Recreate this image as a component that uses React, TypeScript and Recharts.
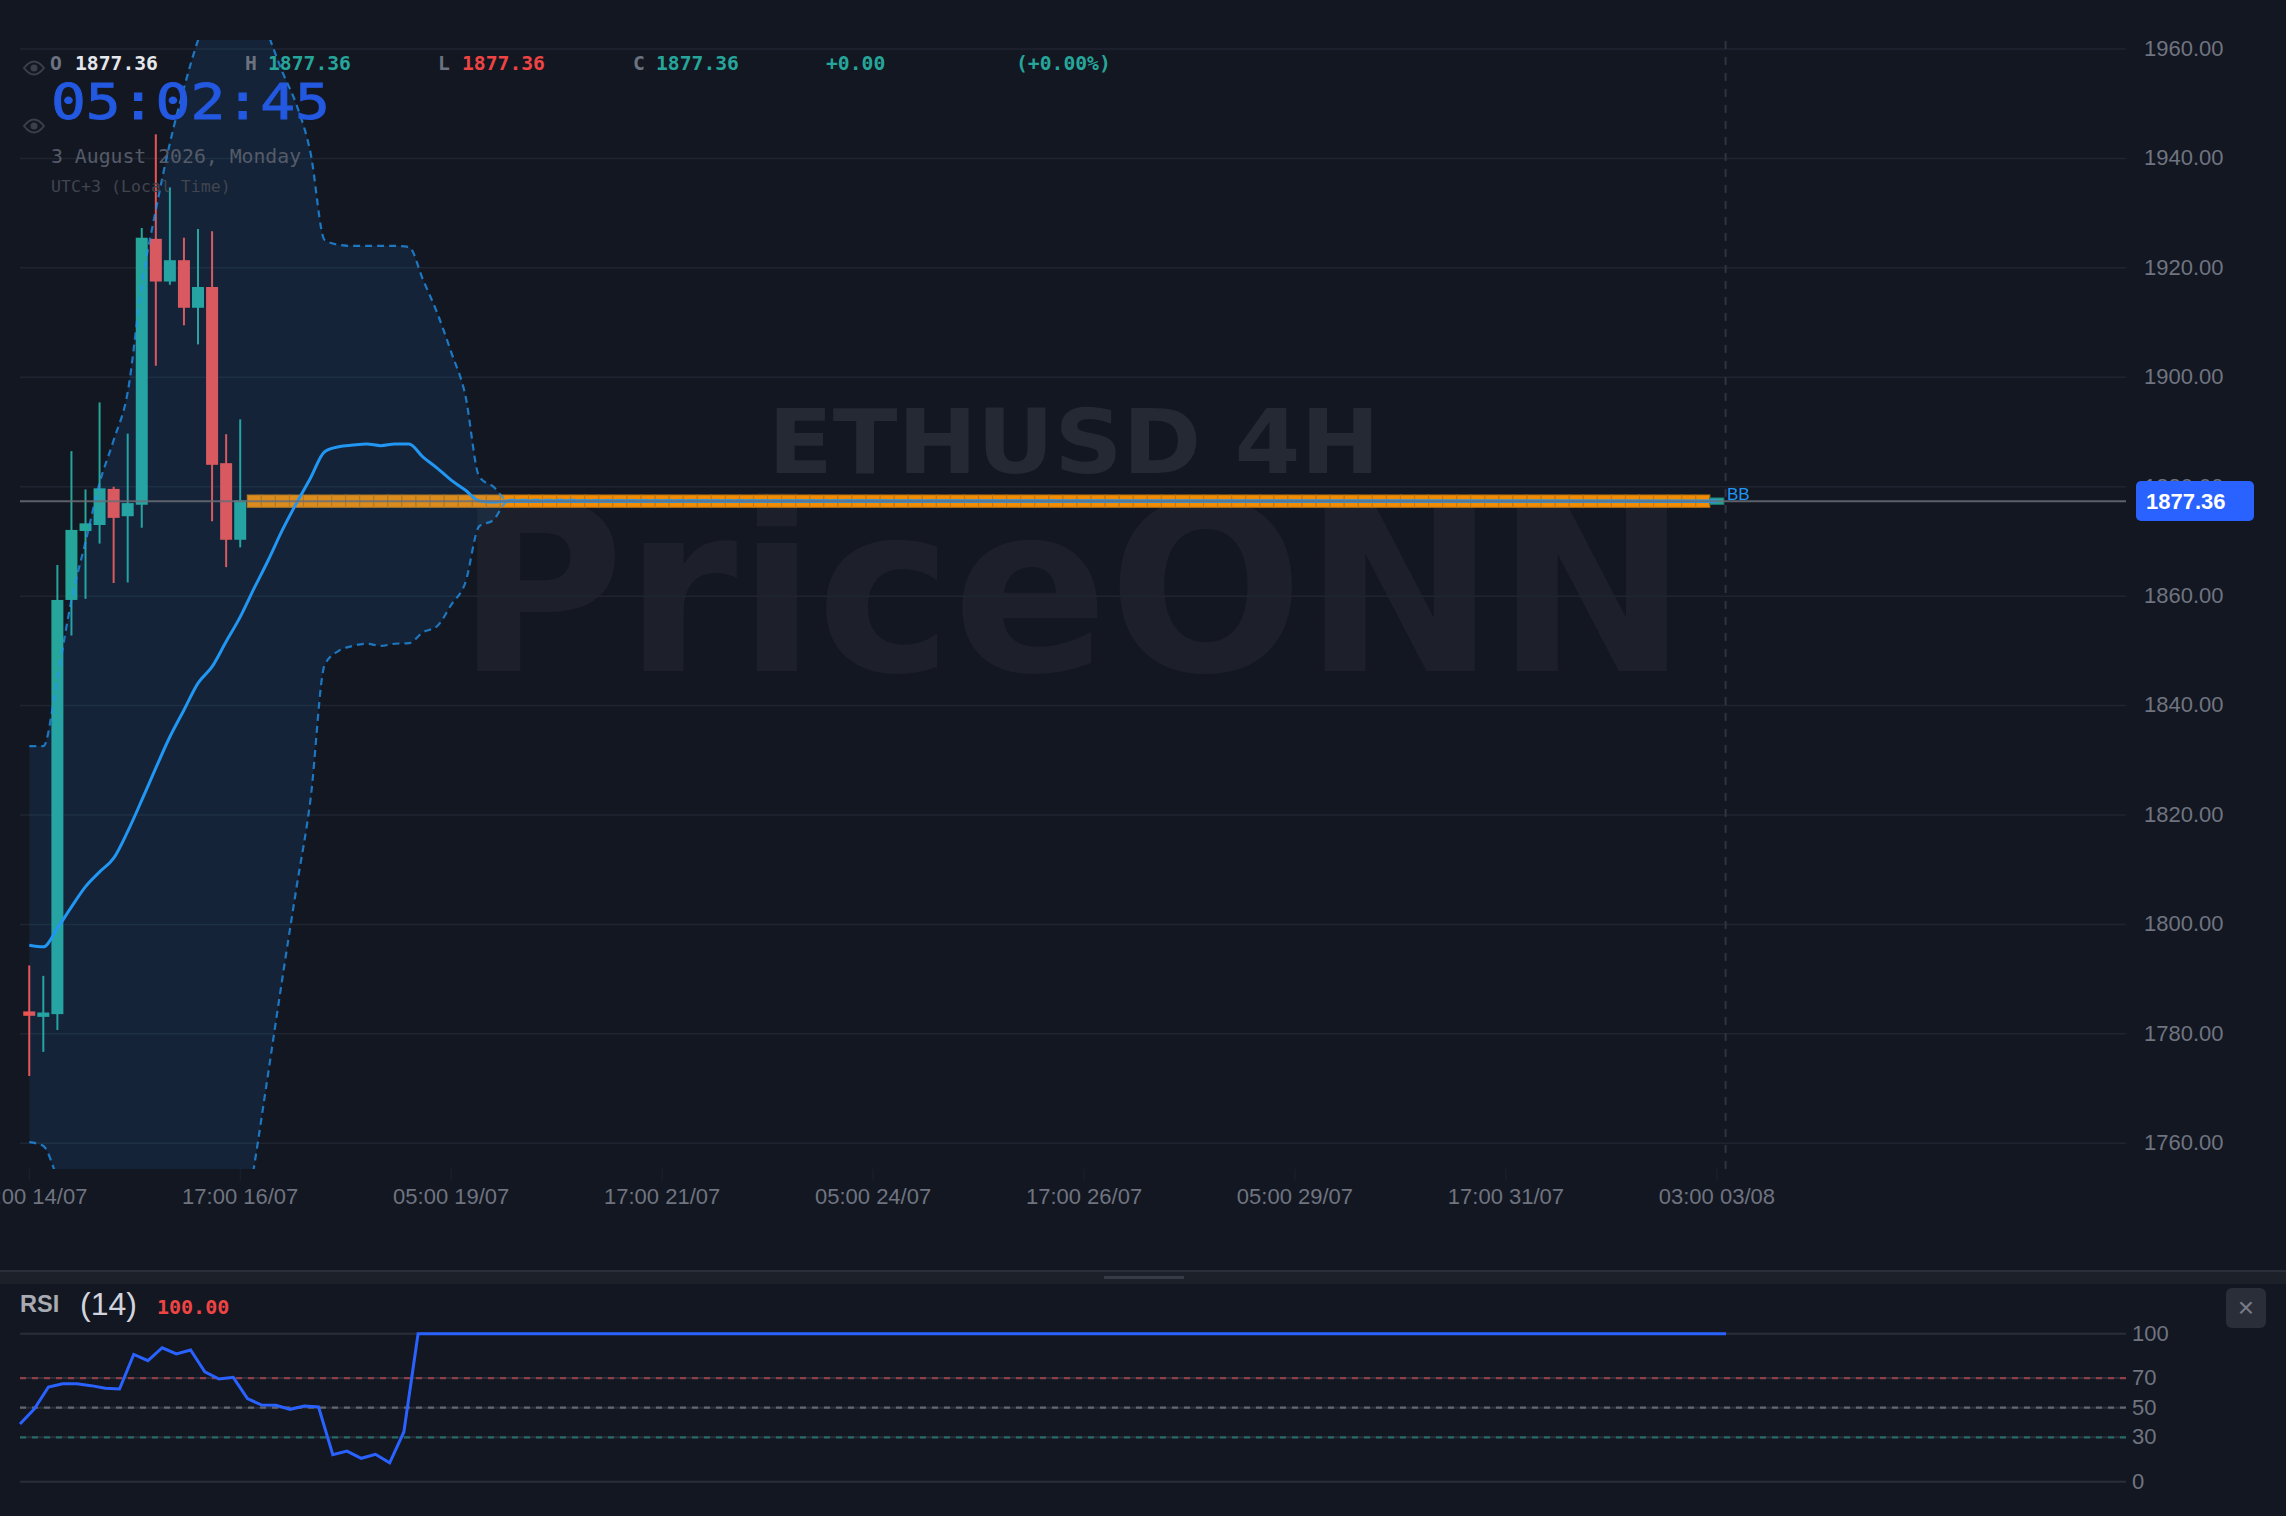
import { ComposedChart, LineChart, Area, Bar, Line, XAxis, YAxis, CartesianGrid, ReferenceLine } from 'recharts'

const BG = '#131722'
const TEAL = '#26a69a'
const RED = '#ef5350'
const BAND_BLUE = '#2196f3'
const AXIS_TEXT = '#6f7480'
const MONO = '"DejaVu Sans Mono", monospace'
const SANS = '"Liberation Sans", Arial, sans-serif'

// Candles, 4H bars, first sixteen are the only ones that moved
const OPEN = [1784.1, 1783.1, 1783.6, 1859.3, 1871.9, 1873, 1879.6, 1874.6, 1876.7, 1925.3, 1917.5, 1921.4, 1912.7, 1916.5, 1884.3, 1870.3]
const HIGH = [1792.5, 1790.6, 1865.7, 1886.5, 1879.5, 1895.4, 1880, 1889.7, 1927.3, 1944.4, 1934.7, 1925.5, 1927.1, 1926.7, 1889.6, 1892.3]
const LOW = [1772.3, 1776.7, 1780.7, 1852.8, 1859.5, 1869.6, 1862.4, 1862.5, 1872.5, 1902.1, 1916.9, 1909.5, 1906, 1873.7, 1865.3, 1868.9]
const CLOSE = [1783.3, 1783.9, 1859.3, 1872.1, 1873.3, 1879.7, 1874.3, 1877, 1925.5, 1917.5, 1921.4, 1912.7, 1916.5, 1884, 1870.3, 1877.5]

// Flat tail after the feed stopped, one close per bar
const FLAT_CLOSE = [
  1877.36, 1877.36, 1877.36, 1877.36, 1877.36, 1877.36, 1877.36, 1877.36, 1877.36, 1877.36, 1877.36, 1877.36, 1877.36,
  1877.36, 1877.36, 1877.36, 1877.36, 1877.36, 1877.36, 1877.36, 1877.36, 1877.36, 1877.36, 1877.36, 1877.36, 1877.36,
  1877.36, 1877.36, 1877.36, 1877.36, 1877.36, 1877.36, 1877.36, 1877.36, 1877.36, 1877.36, 1877.36, 1877.36, 1877.36,
  1877.36, 1877.36, 1877.36, 1877.36, 1877.36, 1877.36, 1877.36, 1877.36, 1877.36, 1877.36, 1877.36, 1877.36, 1877.36,
  1877.36, 1877.36, 1877.36, 1877.36, 1877.36, 1877.36, 1877.36, 1877.36, 1877.36, 1877.36, 1877.36, 1877.36, 1877.36,
  1877.36, 1877.36, 1877.36, 1877.36, 1877.36, 1877.36, 1877.36, 1877.36, 1877.36, 1877.36, 1877.36, 1877.36, 1877.36,
  1877.36, 1877.36, 1877.36, 1877.36, 1877.36, 1877.36, 1877.36, 1877.36, 1877.36, 1877.36, 1877.36, 1877.36, 1877.36,
  1877.36, 1877.36, 1877.36, 1877.36, 1877.36, 1877.36, 1877.36, 1877.36, 1877.36, 1877.36, 1877.36, 1877.36, 1877.36,
  1877.36,
]
const FLAT_HALF = 1.12
const LAST_HALF = 0.58

// Bollinger bands, then flat at the last close up to the last bar
const BB_UPPER = [1832.6, 1832.6, 1845, 1859.3, 1869.9, 1880.7, 1888.5, 1897.3, 1916.9, 1930.6, 1942.8, 1952.9, 1961.6, 1968, 1970.8, 1971.7, 1969.9, 1962.6, 1955.8, 1949.8, 1941, 1925.1, 1924.2, 1924, 1924, 1924, 1924, 1923.8, 1917.8, 1911.8, 1904.6, 1896.8, 1881.8, 1880, 1877.6]
const BB_MID = [1796.2, 1795.9, 1799.3, 1803.2, 1806.9, 1809.6, 1812.1, 1817, 1822.7, 1828.6, 1834.3, 1839.2, 1844.1, 1847.1, 1851.7, 1856.2, 1861.5, 1866.6, 1872.1, 1877, 1881.6, 1886.4, 1887.3, 1887.6, 1887.8, 1887.5, 1887.8, 1887.8, 1885.4, 1883.4, 1881.2, 1879.4, 1877.4, 1877.2, 1877.4]
const BB_LOWER = [1760.2, 1759.5, 1753.6, 1747.1, 1743.9, 1738.5, 1735.7, 1736.7, 1728.5, 1726.6, 1725.8, 1725.5, 1726.6, 1726, 1732.6, 1740.7, 1756, 1773, 1790.2, 1806.7, 1822.9, 1847.4, 1850, 1850.9, 1851.3, 1850.9, 1851.3, 1851.4, 1853.4, 1854.5, 1858.4, 1862.4, 1872.8, 1873.9, 1877.2]
const BB_LAST = 1877.36

const PRICE_TICKS = [1760, 1780, 1800, 1820, 1840, 1860, 1880, 1900, 1920, 1940, 1960]
const TIME_TICKS = [0, 15, 30, 45, 60, 75, 90, 105, 120]
const TIME_LABELS = ['05:00 14/07', '17:00 16/07', '05:00 19/07', '17:00 21/07', '05:00 24/07', '17:00 26/07', '05:00 29/07', '17:00 31/07', '03:00 03/08']

const RSI_VALUES = [39, 49.1, 64, 66.2, 66.2, 64.9, 63.1, 62.6, 86, 81.8, 90.5, 86.3, 89, 74.3, 69.4, 70.5, 56.1, 51.8, 51.6, 48.9, 51.1, 50.5, 18.2, 20.7, 15.8, 18.5, 12.8, 33.6, 100]
const RSI_LAST = 100
const RSI_LAST_INDEX = 120
const RSI_TICKS = [0, 30, 50, 70, 100]

const candleRows = [
  ...OPEN.map((o, i) => ({ i, range: [LOW[i], HIGH[i]], open: o, close: CLOSE[i], kind: 'candle' })),
  ...FLAT_CLOSE.map((c, k) => {
    const i = OPEN.length + k
    const last = k === FLAT_CLOSE.length - 1
    const half = last ? LAST_HALF : FLAT_HALF
    return { i, range: [c - half, c + half], open: c, close: c, kind: last ? 'last' : 'flat' }
  }),
]
const chartData = candleRows.map((r, i) => {
  const tail = i === candleRows.length - 1
  const up = tail ? BB_LAST : BB_UPPER[i]
  const lo = tail ? BB_LAST : BB_LOWER[i]
  return {
    ...r,
    upper: up,
    mid: tail ? BB_LAST : BB_MID[i],
    lower: lo,
    band: up === undefined ? undefined : [lo, up],
    // where all three bands sit on top of each other the stroke reads wider
    merged: tail || i === BB_MID.length - 1 ? BB_LAST : undefined,
  }
})

const rsiData = [
  ...RSI_VALUES.map((v, j) => ({ j, v })),
  { j: RSI_LAST_INDEX, v: RSI_LAST },
]

function CandleShape(props: any) {
  const { x, y, width, height, payload } = props
  const cx = x + width / 2
  if (payload.kind === 'flat') {
    return <rect x={x} y={y} width={width} height={height} fill="#f28c04" stroke="#c27810" strokeWidth={1} />
  }
  if (payload.kind === 'last') {
    return <rect x={x} y={y} width={width} height={height} fill={TEAL} stroke="#1d7f78" strokeWidth={1} />
  }
  const [low, high] = payload.range
  const perUnit = height / (high - low)
  const isUp = payload.close >= payload.open
  const color = isUp ? TEAL : RED
  const top = y + (high - Math.max(payload.open, payload.close)) * perUnit
  const bodyH = Math.max(Math.abs(payload.open - payload.close) * perUnit, 3)
  return (
    <g>
      <line x1={cx} x2={cx} y1={y} y2={y + height} stroke={color} strokeWidth={2} />
      <rect x={cx - 6} y={top} width={12} height={bodyH} fill={color} />
    </g>
  )
}

function Eye({ cx, cy }: { cx: number; cy: number }) {
  return (
    <g fill="none" stroke="#3b3f4a" strokeWidth={2}>
      <path d={`M${cx - 10} ${cy} Q${cx} ${cy - 13} ${cx + 10} ${cy} Q${cx} ${cy + 13} ${cx - 10} ${cy} Z`} />
      <circle cx={cx} cy={cy} r={3.5} fill="#3b3f4a" stroke="none" />
    </g>
  )
}

export default function App() {
  return (
    <div style={{ position: 'absolute', left: 0, top: 0, width: 2286, height: 1516, background: BG, overflow: 'hidden' }}>
      {/* watermark sits behind the chart */}
      <svg width={2286} height={1270} style={{ position: 'absolute', left: 0, top: 0 }}>
        <text x={768} y={473} fontFamily='"DejaVu Sans", sans-serif' fontWeight={700} fontSize={89} fill="#252933" textLength={612} lengthAdjust="spacingAndGlyphs">ETHUSD 4H</text>
        <text x={456} y={671} fontFamily='"DejaVu Sans", sans-serif' fontWeight={700} fontSize={234} fill="#1d202a" textLength={1232} lengthAdjust="spacingAndGlyphs">PriceONN</text>
      </svg>

      <div style={{ position: 'absolute', left: 0, top: 0 }}>
        <ComposedChart width={2286} height={1270} data={chartData} margin={{ top: 40, right: 0, bottom: 0, left: 20 }} barSize={14}>
          <CartesianGrid vertical={false} stroke="#1f2530" strokeWidth={1.5} syncWithTicks />
          <XAxis
            dataKey="i"
            type="number"
            domain={[-0.66, 149.09]}
            allowDataOverflow
            ticks={TIME_TICKS}
            interval={0}
            height={101}
            tickSize={12}
            tickMargin={7}
            axisLine={false}
            tickLine={{ stroke: '#1d222c' }}
            tick={{ fill: AXIS_TEXT, fontSize: 22, fontFamily: SANS }}
            tickFormatter={(v: number) => TIME_LABELS[TIME_TICKS.indexOf(v)]}
          />
          <YAxis
            orientation="right"
            domain={[1755.3, 1961.64]}
            allowDataOverflow
            ticks={PRICE_TICKS}
            interval={0}
            width={160}
            tickSize={18}
            tickMargin={0}
            axisLine={false}
            tickLine={false}
            tick={{ fill: AXIS_TEXT, fontSize: 22, fontFamily: SANS, dy: -1 }}
            tickFormatter={(v: number) => v.toFixed(2)}
          />
          <Bar dataKey="range" shape={CandleShape} isAnimationActive={false} />
          <Area dataKey="band" type="monotone" stroke="none" fill={BAND_BLUE} fillOpacity={0.1} connectNulls dot={false} isAnimationActive={false} zIndex={350} />
          <Line dataKey="upper" type="monotone" stroke={BAND_BLUE} strokeOpacity={0.75} strokeWidth={2.2} strokeDasharray="7 5" dot={false} connectNulls isAnimationActive={false} />
          <Line dataKey="lower" type="monotone" stroke={BAND_BLUE} strokeOpacity={0.75} strokeWidth={2.2} strokeDasharray="7 5" dot={false} connectNulls isAnimationActive={false} />
          <Line dataKey="merged" type="linear" stroke="#3a96d6" strokeOpacity={0.85} strokeWidth={3.5} dot={false} connectNulls isAnimationActive={false} />
          <Line dataKey="mid" type="monotone" stroke={BAND_BLUE} strokeWidth={3} dot={false} connectNulls isAnimationActive={false} />
          <ReferenceLine y={1877.36} stroke="#6a6d76" strokeOpacity={0.85} strokeWidth={2} />
          <ReferenceLine x={120.62} stroke="#2f3540" strokeWidth={2} strokeDasharray="8 8" />
        </ComposedChart>
      </div>

      {/* legend, clock, last price tag */}
      <svg width={2286} height={1270} style={{ position: 'absolute', left: 0, top: 0 }}>
        <Eye cx={34} cy={68} />
        <Eye cx={34} cy={126} />
        <g fontFamily={MONO} fontSize={19.7} fontWeight={700}>
          <text x={50} y={70} fill="#6b7280">O</text>
          <text x={75} y={70} fill="#e5e7eb">1877.36</text>
          <text x={245} y={70} fill="#6b7280">H</text>
          <text x={268} y={70} fill={TEAL}>1877.36</text>
          <text x={438} y={70} fill="#6b7280">L</text>
          <text x={462} y={70} fill="#ef4444">1877.36</text>
          <text x={633} y={70} fill="#6b7280">C</text>
          <text x={656} y={70} fill={TEAL}>1877.36</text>
          <text x={826} y={70} fill={TEAL}>+0.00</text>
          <text x={1016} y={70} fill={TEAL}>(+0.00%)</text>
        </g>
        <text x={51} y={119} fontFamily={MONO} fontSize={50} fill="#2358e0" stroke="#2358e0" strokeWidth={1} textLength={279} lengthAdjust="spacingAndGlyphs">05:02:45</text>
        <text x={51} y={163} fontFamily={MONO} fontSize={19.8} fill="#555b69">3 August 2026, Monday</text>
        <text x={51} y={192} fontFamily={MONO} fontSize={16.6} fill="#40454f">UTC+3 (Local Time)</text>
        <text x={1727} y={500} fontFamily={SANS} fontSize={17} fill={BAND_BLUE}>BB</text>
        <rect x={2136} y={481} width={118} height={40} rx={5} fill="#2962ff" />
        <text x={2146} y={509} fontFamily={SANS} fontWeight={700} fontSize={22} fill="#ffffff">1877.36</text>
      </svg>

      {/* pane divider */}
      <div style={{ position: 'absolute', left: 0, top: 1270, width: 2286, height: 2, background: '#2a2e39' }} />
      <div style={{ position: 'absolute', left: 0, top: 1272, width: 2286, height: 12, background: '#1c2029' }} />
      <div style={{ position: 'absolute', left: 1104, top: 1276, width: 80, height: 3, background: '#363a45' }} />

      {/* RSI pane */}
      <div style={{ position: 'absolute', left: 0, top: 1284 }}>
        <LineChart width={2286} height={232} data={rsiData} margin={{ top: 49.7, right: 0, bottom: 34.3, left: 20 }}>
          <CartesianGrid vertical={false} stroke="#2a2e39" strokeWidth={2} syncWithTicks />
          <XAxis dataKey="j" type="number" domain={[0, 148.13]} hide />
          <YAxis
            orientation="right"
            domain={[0, 100]}
            ticks={RSI_TICKS}
            interval={0}
            width={160}
            tickSize={6}
            tickMargin={0}
            axisLine={false}
            tickLine={false}
            tick={{ fill: AXIS_TEXT, fontSize: 22, fontFamily: SANS, dy: -1 }}
          />
          <ReferenceLine y={70} stroke="#8f3f45" strokeWidth={2.2} strokeDasharray="6 6" />
          <ReferenceLine y={50} stroke="#62666f" strokeWidth={2.2} strokeDasharray="6 6" />
          <ReferenceLine y={30} stroke="#236a68" strokeWidth={2.2} strokeDasharray="6 6" />
          <Line dataKey="v" type="linear" stroke="#2962ff" strokeWidth={3} dot={false} isAnimationActive={false} />
        </LineChart>
      </div>

      <svg width={2286} height={1516} style={{ position: 'absolute', left: 0, top: 0, pointerEvents: 'none' }}>
        <text x={20} y={1312} fontFamily={SANS} fontWeight={700} fontSize={23.5} fill="#a8abb2">RSI</text>
        <text x={80} y={1315} fontFamily={SANS} fontSize={32} fill="#d1d4dc">(14)</text>
        <text x={157} y={1314} fontFamily={MONO} fontSize={20} fontWeight={700} fill="#ef4444">100.00</text>
        <rect x={2226} y={1288} width={40} height={40} rx={6} fill="#2a2e39" />
        <text x={2246} y={1317} textAnchor="middle" fontFamily={SANS} fontSize={28} fill="#787b86">×</text>
      </svg>
    </div>
  )
}
